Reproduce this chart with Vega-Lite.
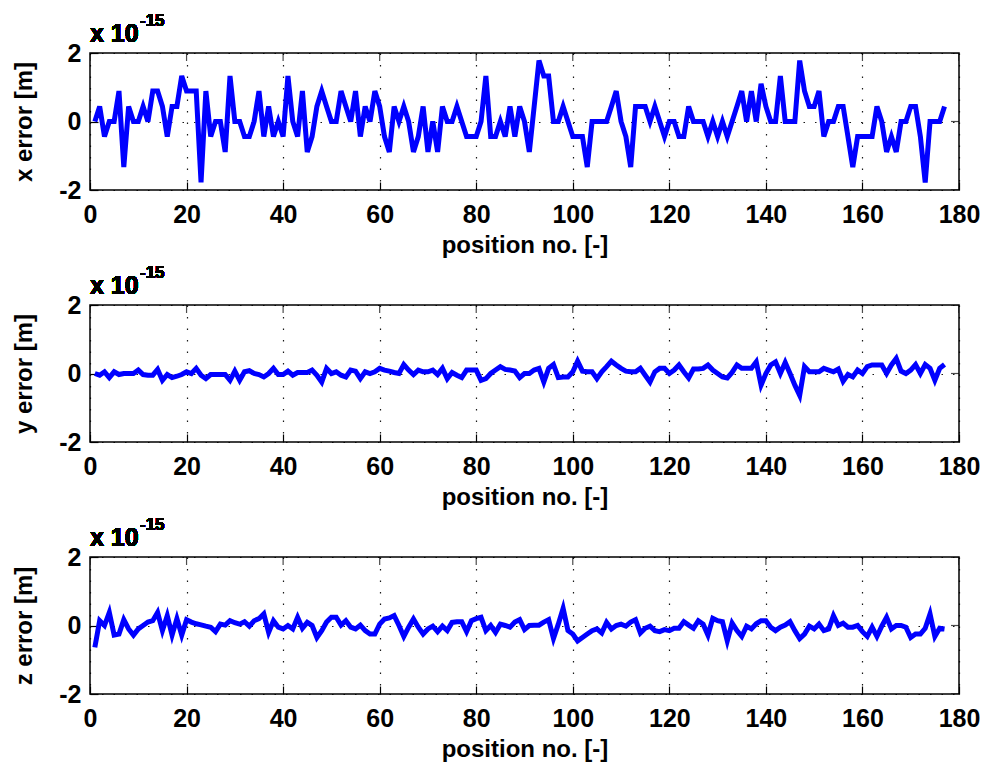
{
  "$schema": "https://vega.github.io/schema/vega-lite/v6.json",
  "background": "white",
  "padding": {"left": 12, "top": 11, "right": 4, "bottom": 4},
  "bounds": "flush",
  "spacing": 115,
  "config": {
    "font": "Liberation Sans",
    "view": {"stroke": "black", "strokeWidth": 1.5},
    "axis": {
      "domain": false,
      "tickColor": "black",
      "tickWidth": 1.2,
      "tickSize": -8,
      "labelFlush": false,
      "labelOverlap": false,
      "labelColor": "black",
      "labelFont": "Liberation Sans",
      "labelFontSize": 25,
      "labelFontWeight": "bold",
      "titleColor": "black",
      "titleFont": "Liberation Sans",
      "titleFontSize": 24,
      "titleFontWeight": "bold",
      "gridColor": "black",
      "gridDash": [1.5, 10],
      "gridWidth": 1.2,
      "gridOpacity": 0.9
    }
  },
  "datasets": {
    "xticks": [{"t":0},{"t":20},{"t":40},{"t":60},{"t":80},{"t":100},{"t":120},{"t":140},{"t":160},{"t":180}],
    "yticks": [{"v":-2},{"v":0},{"v":2}]
  },
  "data": {"values": [
    {"n":1,"x":0,"y":0,"z":-0.64},{"n":2,"x":0.44,"y":-0.05,"z":0.14},{"n":3,"x":-0.44,"y":0.05,"z":0},{"n":4,"x":0,"y":-0.12,"z":0.38},
    {"n":5,"x":0,"y":0.05,"z":-0.28},{"n":6,"x":0.89,"y":-0.03,"z":-0.25},{"n":7,"x":-1.33,"y":0,"z":0.17},{"n":8,"x":0.44,"y":0,"z":-0.1},
    {"n":9,"x":0,"y":0,"z":-0.28},{"n":10,"x":0,"y":0.1,"z":-0.1},{"n":11,"x":0.44,"y":-0.03,"z":0},{"n":12,"x":0,"y":-0.05,"z":0.1},
    {"n":13,"x":0.89,"y":-0.05,"z":0.14},{"n":14,"x":0.89,"y":0.12,"z":0.38},{"n":15,"x":0.44,"y":-0.2,"z":-0.15},{"n":16,"x":-0.44,"y":-0.03,"z":0.29},
    {"n":17,"x":0.44,"y":-0.12,"z":-0.28},{"n":18,"x":0.44,"y":-0.08,"z":0.2},{"n":19,"x":1.33,"y":-0.03,"z":-0.28},{"n":20,"x":0.89,"y":0.05,"z":0.17},
    {"n":21,"x":0.89,"y":0,"z":0.1},{"n":22,"x":0.89,"y":0.15,"z":0.05},{"n":23,"x":-1.78,"y":-0.05,"z":0.02},{"n":24,"x":0.89,"y":-0.15,"z":-0.02},
    {"n":25,"x":-0.44,"y":-0.03,"z":-0.05},{"n":26,"x":0,"y":-0.03,"z":-0.18},{"n":27,"x":0,"y":-0.03,"z":0.04},{"n":28,"x":-0.89,"y":-0.03,"z":0.01},
    {"n":29,"x":1.33,"y":-0.2,"z":0.14},{"n":30,"x":0,"y":0.07,"z":0.08},{"n":31,"x":0,"y":-0.2,"z":0.04},{"n":32,"x":-0.44,"y":0.05,"z":0.11},
    {"n":33,"x":-0.44,"y":0.08,"z":-0.02},{"n":34,"x":0,"y":0,"z":0.14},{"n":35,"x":0.89,"y":-0.03,"z":0.2},{"n":36,"x":-0.44,"y":-0.1,"z":0.34},
    {"n":37,"x":0.44,"y":0,"z":-0.2},{"n":38,"x":-0.44,"y":0.15,"z":0.14},{"n":39,"x":0,"y":-0.03,"z":-0.05},{"n":40,"x":-0.44,"y":-0.03,"z":-0.1},
    {"n":41,"x":1.33,"y":0.07,"z":0},{"n":42,"x":0,"y":-0.05,"z":-0.1},{"n":43,"x":-0.44,"y":0.03,"z":0.24},{"n":44,"x":0.89,"y":0.03,"z":-0.08},
    {"n":45,"x":-0.89,"y":0.03,"z":0.09},{"n":46,"x":-0.44,"y":0.1,"z":0},{"n":47,"x":0.44,"y":-0.05,"z":-0.35},{"n":48,"x":0.89,"y":-0.25,"z":-0.15},
    {"n":49,"x":0.44,"y":0.15,"z":0.1},{"n":50,"x":0,"y":0,"z":0.24},{"n":51,"x":0,"y":0.05,"z":0.24},{"n":52,"x":0.89,"y":-0.05,"z":0.01},
    {"n":53,"x":0.44,"y":-0.1,"z":0.14},{"n":54,"x":0,"y":0.1,"z":-0.05},{"n":55,"x":0.89,"y":0.07,"z":-0.1},{"n":56,"x":-0.44,"y":-0.15,"z":0.01},
    {"n":57,"x":0.44,"y":0.05,"z":-0.15},{"n":58,"x":0,"y":0,"z":-0.25},{"n":59,"x":0.89,"y":0.05,"z":-0.25},{"n":60,"x":0.44,"y":0.15,"z":0.04},
    {"n":61,"x":-0.44,"y":0.1,"z":0.19},{"n":62,"x":-0.89,"y":0.07,"z":0.22},{"n":63,"x":0.44,"y":0.03,"z":0.29},{"n":64,"x":0,"y":0,"z":0},
    {"n":65,"x":0.44,"y":0.26,"z":-0.32},{"n":66,"x":0,"y":0.1,"z":-0.05},{"n":67,"x":-0.89,"y":-0.03,"z":0.19},{"n":68,"x":-0.44,"y":0.1,"z":-0.05},
    {"n":69,"x":0.44,"y":0.05,"z":-0.25},{"n":70,"x":-0.89,"y":0.05,"z":-0.1},{"n":71,"x":0,"y":0.1,"z":-0.02},{"n":72,"x":-0.89,"y":-0.03,"z":-0.18},
    {"n":73,"x":0.44,"y":0.15,"z":-0.02},{"n":74,"x":0,"y":-0.15,"z":-0.15},{"n":75,"x":0,"y":0.03,"z":0.09},{"n":76,"x":0.44,"y":-0.05,"z":0.11},
    {"n":77,"x":0,"y":-0.12,"z":0.11},{"n":78,"x":-0.44,"y":0.1,"z":-0.18},{"n":79,"x":-0.44,"y":0.1,"z":0.14},{"n":80,"x":-0.44,"y":0.1,"z":0.2},
    {"n":81,"x":0,"y":-0.2,"z":0.24},{"n":82,"x":1.33,"y":-0.15,"z":-0.15},{"n":83,"x":-0.44,"y":0,"z":0},{"n":84,"x":-0.44,"y":0.1,"z":-0.2},
    {"n":85,"x":0,"y":0.2,"z":0.04},{"n":86,"x":-0.44,"y":0.12,"z":0},{"n":87,"x":0.44,"y":0.1,"z":-0.05},{"n":88,"x":-0.44,"y":0.07,"z":0.1},
    {"n":89,"x":0.44,"y":-0.12,"z":0.17},{"n":90,"x":0,"y":0,"z":-0.12},{"n":91,"x":-0.89,"y":0,"z":0},{"n":92,"x":0.44,"y":0.1,"z":0.01},
    {"n":93,"x":1.78,"y":0.15,"z":0.01},{"n":94,"x":1.33,"y":-0.25,"z":0.1},{"n":95,"x":1.33,"y":0.15,"z":0.17},{"n":96,"x":0,"y":0.26,"z":-0.38},
    {"n":97,"x":0,"y":-0.12,"z":0.04},{"n":98,"x":0.44,"y":-0.1,"z":0.5},{"n":99,"x":0,"y":-0.1,"z":-0.15},{"n":100,"x":-0.44,"y":0.05,"z":-0.25},
    {"n":101,"x":-0.44,"y":0.36,"z":-0.45},{"n":102,"x":-0.44,"y":0.07,"z":-0.35},{"n":103,"x":-1.33,"y":0.05,"z":-0.25},{"n":104,"x":0,"y":0.05,"z":-0.15},
    {"n":105,"x":0,"y":-0.15,"z":-0.1},{"n":106,"x":0,"y":0.05,"z":-0.22},{"n":107,"x":0,"y":0.2,"z":0.09},{"n":108,"x":0.44,"y":0.36,"z":-0.1},
    {"n":109,"x":0.89,"y":0.25,"z":0},{"n":110,"x":0,"y":0.15,"z":0.04},{"n":111,"x":-0.44,"y":0.07,"z":-0.02},{"n":112,"x":-1.33,"y":0.05,"z":0.1},
    {"n":113,"x":0.44,"y":0.05,"z":0.17},{"n":114,"x":0.44,"y":0.15,"z":-0.22},{"n":115,"x":0.44,"y":-0.05,"z":-0.08},{"n":116,"x":0,"y":-0.25,"z":-0.02},
    {"n":117,"x":0.44,"y":0.05,"z":-0.15},{"n":118,"x":0,"y":0.15,"z":-0.18},{"n":119,"x":-0.44,"y":0.15,"z":-0.12},{"n":120,"x":0,"y":0,"z":-0.15},
    {"n":121,"x":0,"y":0.1,"z":-0.08},{"n":122,"x":-0.44,"y":0.25,"z":-0.08},{"n":123,"x":-0.44,"y":0.05,"z":0.11},{"n":124,"x":0.44,"y":-0.13,"z":0.01},
    {"n":125,"x":0,"y":0.13,"z":-0.08},{"n":126,"x":0,"y":0.13,"z":0.14},{"n":127,"x":0,"y":0.15,"z":0.04},{"n":128,"x":-0.44,"y":0.25,"z":-0.28},
    {"n":129,"x":0,"y":0.1,"z":0.21},{"n":130,"x":-0.44,"y":0,"z":0.14},{"n":131,"x":0,"y":-0.1,"z":0.11},{"n":132,"x":-0.44,"y":-0.13,"z":-0.45},
    {"n":133,"x":0,"y":0.03,"z":0.07},{"n":134,"x":0.44,"y":0.25,"z":-0.15},{"n":135,"x":0.89,"y":0.15,"z":-0.32},{"n":136,"x":0,"y":0.15,"z":-0.02},
    {"n":137,"x":0.89,"y":0.15,"z":-0.1},{"n":138,"x":0,"y":0.34,"z":0.05},{"n":139,"x":1.1,"y":-0.34,"z":0.14},{"n":140,"x":0.44,"y":0,"z":0.14},
    {"n":141,"x":0,"y":0.25,"z":-0.05},{"n":142,"x":0,"y":0.34,"z":-0.15},{"n":143,"x":1.33,"y":0,"z":-0.05},{"n":144,"x":0,"y":0.32,"z":0.01},
    {"n":145,"x":0,"y":0,"z":0.11},{"n":146,"x":0,"y":-0.34,"z":-0.15},{"n":147,"x":1.78,"y":-0.64,"z":-0.38},{"n":148,"x":0.89,"y":0.2,"z":-0.25},
    {"n":149,"x":0.44,"y":0.05,"z":-0.02},{"n":150,"x":0.44,"y":0.05,"z":-0.1},{"n":151,"x":0.89,"y":0.05,"z":0.04},{"n":152,"x":-0.44,"y":0.15,"z":-0.15},
    {"n":153,"x":0,"y":0.1,"z":-0.1},{"n":154,"x":0,"y":0.05,"z":0.29},{"n":155,"x":0.44,"y":0.13,"z":0},{"n":156,"x":0.44,"y":-0.23,"z":0.07},
    {"n":157,"x":-0.44,"y":-0.03,"z":-0.05},{"n":158,"x":-1.33,"y":-0.1,"z":-0.05},{"n":159,"x":-0.44,"y":0.1,"z":0},{"n":160,"x":-0.44,"y":0,"z":-0.18},
    {"n":161,"x":-0.44,"y":0.2,"z":-0.32},{"n":162,"x":-0.44,"y":0.25,"z":-0.05},{"n":163,"x":0.44,"y":0.25,"z":-0.32},{"n":164,"x":0,"y":0.25,"z":-0.02},
    {"n":165,"x":-0.89,"y":0,"z":0.24},{"n":166,"x":-0.44,"y":0.25,"z":-0.1},{"n":167,"x":-0.89,"y":0.44,"z":0},{"n":168,"x":0,"y":0.07,"z":0},
    {"n":169,"x":0,"y":0,"z":-0.05},{"n":170,"x":0.44,"y":0.1,"z":-0.35},{"n":171,"x":0.44,"y":0.26,"z":-0.25},{"n":172,"x":-0.44,"y":0,"z":-0.25},
    {"n":173,"x":-1.78,"y":0.26,"z":-0.08},{"n":174,"x":0,"y":0.15,"z":0.34},{"n":175,"x":0,"y":-0.2,"z":-0.32},{"n":176,"x":0,"y":0.15,"z":-0.08},
    {"n":177,"x":0.44,"y":0.26,"z":-0.1}
  ]},
  "vconcat": [
    {
      "width": 869, "height": 137,
      "layer": [
        {
          "mark": {"type": "line", "color": "#0000ff", "strokeWidth": 5},
          "encoding": {
            "x": {"field": "n", "type": "quantitative", "scale": {"domain": [0, 180], "nice": false},
                  "axis": {"orient": "bottom", "values": [0,20,40,60,80,100,120,140,160,180], "grid": true, "labelPadding": 20, "labelExpr": "'' + datum.value", "title": "position no. [-]", "titlePadding": 6}},
            "y": {"field": "x", "type": "quantitative", "scale": {"domain": [-2, 2], "nice": false},
                  "axis": {"orient": "left", "values": [-2, 0, 2], "grid": true, "labelPadding": 17, "labelExpr": "'' + datum.value", "title": "x error [m]", "titlePadding": 22}}
          }
        },
        {
          "data": {"name": "xticks"},
          "mark": {"type": "tick", "orient": "vertical", "size": 16, "thickness": 1.2, "color": "black", "clip": true},
          "encoding": {"x": {"field": "t", "type": "quantitative"}, "y": {"datum": 2}}
        },
        {
          "data": {"name": "yticks"},
          "mark": {"type": "tick", "orient": "horizontal", "size": 16, "thickness": 1.2, "color": "black", "clip": true},
          "encoding": {"y": {"field": "v", "type": "quantitative"}, "x": {"datum": 180}}
        },
        {
          "mark": {"type": "text", "align": "left", "baseline": "alphabetic", "fontSize": 25, "font": "Liberation Sans", "fontWeight": "bold", "dy": -11},
          "encoding": {"x": {"datum": 0}, "y": {"datum": 2}, "text": {"value": "x 10"}}
        },
        {
          "mark": {"type": "text", "align": "left", "baseline": "alphabetic", "fontSize": 17, "font": "Liberation Sans", "fontWeight": "bold", "dx": 50, "dy": -27},
          "encoding": {"x": {"datum": 0}, "y": {"datum": 2}, "text": {"value": "-15"}}
        }
      ]
    },
    {
      "width": 869, "height": 137,
      "layer": [
        {
          "mark": {"type": "line", "color": "#0000ff", "strokeWidth": 5},
          "encoding": {
            "x": {"field": "n", "type": "quantitative", "scale": {"domain": [0, 180], "nice": false},
                  "axis": {"orient": "bottom", "values": [0,20,40,60,80,100,120,140,160,180], "grid": true, "labelPadding": 20, "labelExpr": "'' + datum.value", "title": "position no. [-]", "titlePadding": 6}},
            "y": {"field": "y", "type": "quantitative", "scale": {"domain": [-2, 2], "nice": false},
                  "axis": {"orient": "left", "values": [-2, 0, 2], "grid": true, "labelPadding": 17, "labelExpr": "'' + datum.value", "title": "y error [m]", "titlePadding": 22}}
          }
        },
        {
          "data": {"name": "xticks"},
          "mark": {"type": "tick", "orient": "vertical", "size": 16, "thickness": 1.2, "color": "black", "clip": true},
          "encoding": {"x": {"field": "t", "type": "quantitative"}, "y": {"datum": 2}}
        },
        {
          "data": {"name": "yticks"},
          "mark": {"type": "tick", "orient": "horizontal", "size": 16, "thickness": 1.2, "color": "black", "clip": true},
          "encoding": {"y": {"field": "v", "type": "quantitative"}, "x": {"datum": 180}}
        },
        {
          "mark": {"type": "text", "align": "left", "baseline": "alphabetic", "fontSize": 25, "font": "Liberation Sans", "fontWeight": "bold", "dy": -11},
          "encoding": {"x": {"datum": 0}, "y": {"datum": 2}, "text": {"value": "x 10"}}
        },
        {
          "mark": {"type": "text", "align": "left", "baseline": "alphabetic", "fontSize": 17, "font": "Liberation Sans", "fontWeight": "bold", "dx": 50, "dy": -27},
          "encoding": {"x": {"datum": 0}, "y": {"datum": 2}, "text": {"value": "-15"}}
        }
      ]
    },
    {
      "width": 869, "height": 137,
      "layer": [
        {
          "mark": {"type": "line", "color": "#0000ff", "strokeWidth": 5},
          "encoding": {
            "x": {"field": "n", "type": "quantitative", "scale": {"domain": [0, 180], "nice": false},
                  "axis": {"orient": "bottom", "values": [0,20,40,60,80,100,120,140,160,180], "grid": true, "labelPadding": 20, "labelExpr": "'' + datum.value", "title": "position no. [-]", "titlePadding": 6}},
            "y": {"field": "z", "type": "quantitative", "scale": {"domain": [-2, 2], "nice": false},
                  "axis": {"orient": "left", "values": [-2, 0, 2], "grid": true, "labelPadding": 17, "labelExpr": "'' + datum.value", "title": "z error [m]", "titlePadding": 22}}
          }
        },
        {
          "data": {"name": "xticks"},
          "mark": {"type": "tick", "orient": "vertical", "size": 16, "thickness": 1.2, "color": "black", "clip": true},
          "encoding": {"x": {"field": "t", "type": "quantitative"}, "y": {"datum": 2}}
        },
        {
          "data": {"name": "yticks"},
          "mark": {"type": "tick", "orient": "horizontal", "size": 16, "thickness": 1.2, "color": "black", "clip": true},
          "encoding": {"y": {"field": "v", "type": "quantitative"}, "x": {"datum": 180}}
        },
        {
          "mark": {"type": "text", "align": "left", "baseline": "alphabetic", "fontSize": 25, "font": "Liberation Sans", "fontWeight": "bold", "dy": -11},
          "encoding": {"x": {"datum": 0}, "y": {"datum": 2}, "text": {"value": "x 10"}}
        },
        {
          "mark": {"type": "text", "align": "left", "baseline": "alphabetic", "fontSize": 17, "font": "Liberation Sans", "fontWeight": "bold", "dx": 50, "dy": -27},
          "encoding": {"x": {"datum": 0}, "y": {"datum": 2}, "text": {"value": "-15"}}
        }
      ]
    }
  ]
}
